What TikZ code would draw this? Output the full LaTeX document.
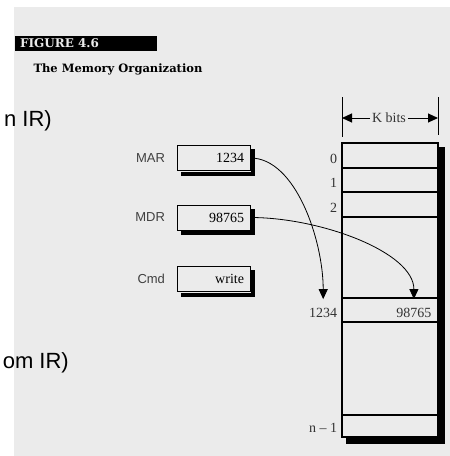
\documentclass[tikz,border=0pt]{standalone}
\usepackage{fontspec}
\setmainfont{Liberation Serif}
\setsansfont{Liberation Sans}
\newfontfamily\slabfont{DejaVu Serif}
\usetikzlibrary{positioning,arrows.meta}
\definecolor{paper}{gray}{0.92}

\begin{document}
\begin{tikzpicture}
[x=1pt,y=-1pt,
 regdecorate/.style={shape=rectangle,draw,line width=1pt,minimum width=73pt,minimum height=25pt,
   text width=61pt,align=right,inner sep=6pt,font=\fontsize{14}{14}\selectfont},
 labeldecorate/.style={font=\sffamily\fontsize{13}{13}\selectfont,text=black!75},
 memdecorate/.style={shape=rectangle,draw,line width=1.2pt,minimum width=96pt,minimum height=294pt},
 celldecorate/.style={shape=rectangle,draw,line width=1.2pt,minimum width=96pt,inner sep=0pt},
 addrdecorate/.style={anchor=base east,inner sep=1pt,font=\fontsize{14}{14}\selectfont,text=black!80},
 linedecorate/.style={-{Triangle[length=10pt,width=9pt]},line width=0.8pt},
 shadowdecorate/.style={draw=black,line cap=rect,line join=miter},
 notedecorate/.style={anchor=base east,inner sep=0pt,font=\sffamily\fontsize{22}{22}\selectfont}]
\useasboundingbox (0,0) rectangle (450,456);
\fill[paper] (14,7) rectangle (450,456);
%% heading
\node (figbar) at (86,43.5) [shape=rectangle,fill=black,minimum width=142pt,minimum height=15pt,inner sep=0pt] {};
\node (figtitle) at ([xshift=5pt]figbar.west) [anchor=west,inner sep=0pt,text=paper,font=\slabfont\bfseries\fontsize{12}{12}\selectfont] {FIGURE 4.6};
\node (figcaption) at (118,69) [font=\slabfont\bfseries\fontsize{11.5}{11.5}\selectfont] {The Memory Organization};
%% registers
\foreach \nodename/\y/\value in {MAR/158/1234, MDR/217.5/98765, Cmd/279/write} {
  \node (\nodename) at (213.5,\y) [regdecorate] {\value};
  \node (\nodename-label) [labeldecorate,left=8pt of \nodename] {\nodename};
  \draw[shadowdecorate,line width=4pt] ([xshift=2.5pt,yshift=-6pt]\nodename.north east) -- ([xshift=2.5pt,yshift=-2.5pt]\nodename.south east) -- ([xshift=6pt,yshift=-2.5pt]\nodename.south west);
}
%% memory with its cells
\node (memory) at (390,290) [memdecorate] {};
\draw[shadowdecorate,line width=6pt] ([xshift=3.6pt,yshift=-8pt]memory.north east) -- ([xshift=3.6pt,yshift=-3pt]memory.south east) -- ([xshift=8pt,yshift=-3pt]memory.south west);
\foreach \nodename/\y/\h/\addr in {cell0/155.5/25/0, cell1/180/24/1, cell2/204.5/25/2, cellA/310/24/1234, celln/426/22/n – 1} {
  \node (\nodename) at (390,\y) [celldecorate,minimum height=\h pt] {};
  \node (\nodename-addr) at ([xshift=-3pt,yshift=5pt]\nodename.south west) [addrdecorate] {\addr};
}
\node (datavalue) at ([xshift=-6pt,yshift=5pt]cellA.south east) [addrdecorate] {98765};
%% word width
\draw[line width=0.8pt] (342,97) -- (342,137);
\draw[line width=0.8pt] (438,97) -- (438,135);
\coordinate (kleft) at (342,118);
\coordinate (kright) at (438,118);
\node (kbits) at (389,118) [inner sep=2pt,font=\fontsize{14}{14}\selectfont,text=black!80] {K bits};
\draw[-{Triangle[length=10pt,width=9pt]},line width=1pt] (kbits) -- (kleft);
\draw[-{Triangle[length=10pt,width=9pt]},line width=1pt] (kbits) -- (kright);
%% transfers
\draw[linedecorate,shorten >=8pt] (MAR.east) .. controls +(45,0) and +(0,-67) .. (cellA-addr.north);
\draw[linedecorate,shorten >=8pt] (MDR.east) .. controls +(70,0) and +(0,-55) .. (datavalue.north);
%% notes at the left edge
\node (irnote1) at (52,126) [notedecorate] {n IR)};
\node (irnote2) at (69,368) [notedecorate] {om IR)};
\end{tikzpicture}
\end{document}
